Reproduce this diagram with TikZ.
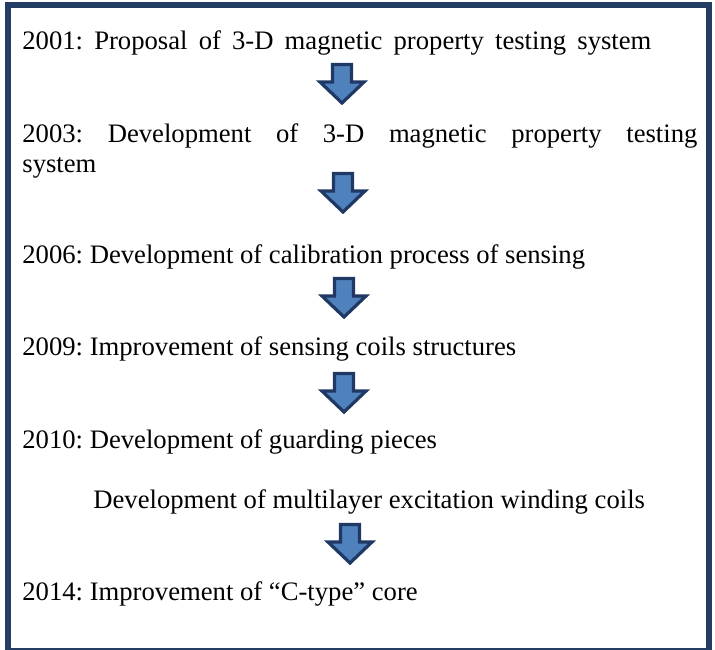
\documentclass[tikz,border=0pt]{standalone}
\usepackage{fontspec}
\setmainfont{Liberation Serif}
\frenchspacing
\definecolor{boxnavy}{RGB}{36,62,99}
\definecolor{arrowblue}{RGB}{79,129,189}
\definecolor{arrowedge}{RGB}{31,56,100}
\tikzset{
  stepline/.style={anchor=base west, inner sep=0pt, font=\fontsize{13.33}{16}\selectfont},
  downarrow/.pic={
    \draw[line width=1.6pt, draw=arrowedge, fill=arrowblue, line join=miter]
      (-9.5,1.5) -- (9.5,1.5) -- (9.5,19) -- (22,19) -- (0,40)
      -- (-22,19) -- (-9.5,19) -- cycle;
  }
}

\begin{document}
\begin{tikzpicture}[x=0.5pt, y=-0.5pt]
\useasboundingbox (0,0) rectangle (715,649);
% outline
\draw[boxnavy, line width=3pt] (8,5) rectangle (708.5,651);
% steps
\node[stepline] (s2001) at (22,49) {\makebox[314.5pt][s]{2001: Proposal of 3-D magnetic property testing system}};
\node[stepline] (s2003) at (22,142) {\makebox[337.5pt][s]{2003: Development of 3-D magnetic property testing}};
\node[stepline] (s2003b) at (22,172) {system};
\node[stepline] (s2006) at (22,263) {2006: Development of calibration process of sensing};
\node[stepline] (s2009) at (22,355) {2009: Improvement of sensing coils structures};
\node[stepline] (s2010) at (22,448) {2010: Development of guarding pieces};
\node[stepline] (s2010b) at (93,508) {Development of multilayer excitation winding coils};
\node[stepline] (s2014) at (22,600) {2014: Improvement of “C-type” core};
% arrows
\foreach \cx/\top in {342/63, 343/172, 344/277, 344/372, 350/523}
  \pic at (\cx,\top) {downarrow};
\end{tikzpicture}
\end{document}
